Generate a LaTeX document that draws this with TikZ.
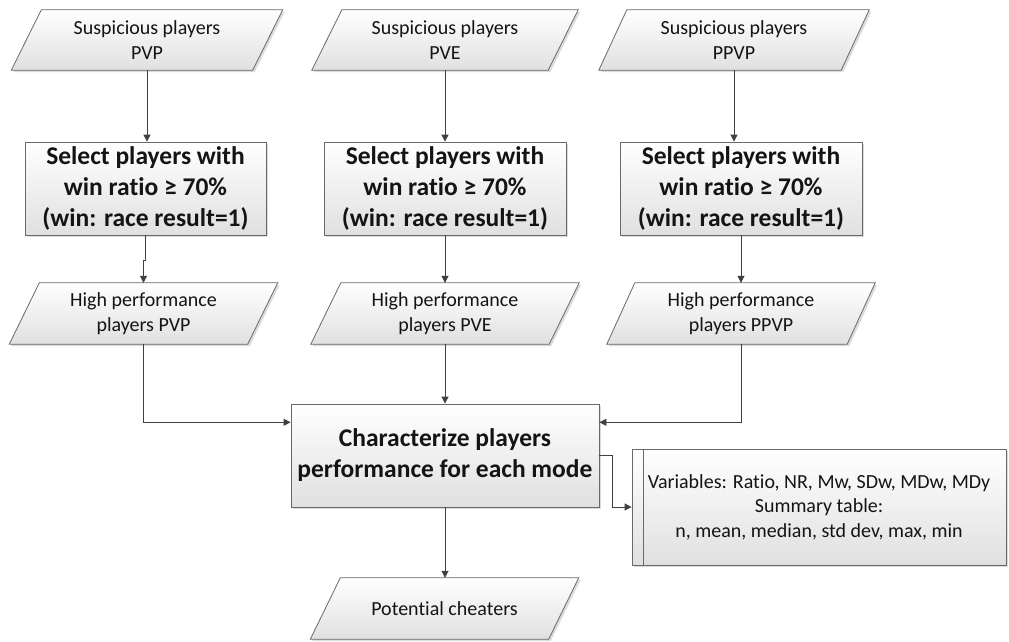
\documentclass[tikz,border=0pt]{standalone}
\usepackage{fontspec}
\setmainfont{Carlito}[Ligatures=NoCommon]
\usetikzlibrary{arrows.meta,calc,backgrounds,shadows}

\definecolor{linegray}{RGB}{105,105,105}
\definecolor{fillgray}{RGB}{224,224,224}
\definecolor{arrowgray}{RGB}{64,64,64}
\definecolor{inkcolor}{RGB}{20,20,20}

\tikzset{
  basefill/.style={top color=white, bottom color=fillgray, draw=linegray, line width=0.8pt,
    drop shadow={shadow xshift=2pt, shadow yshift=-2pt, fill=black!40, opacity=0.35}},
  slanttext/.style={inner sep=0pt, align=center, text=inkcolor,
    font=\fontsize{20}{24.5}\selectfont},
  procbox/.style={basefill, inner sep=0pt, align=center, text=inkcolor,
    font=\bfseries\fontsize{25.5}{31}\selectfont},
  notebox/.style={basefill, inner sep=0pt, align=center, text=inkcolor,
    font=\fontsize{20}{24.5}\selectfont},
  flow/.style={draw=arrowgray, line width=0.8pt, -{Triangle[length=7pt,width=7pt]}},
}

% data (input/output) shape: a parallelogram drawn behind a text node
\newcommand\slantshape[2]{%
  \path[basefill] ($(#1.south west)+(-#2,0)$) -- ($(#1.south east)+(-#2,0)$)
    -- ($(#1.north east)+(#2,0)$) -- ($(#1.north west)+(#2,0)$) -- cycle;}

\begin{document}
\begin{tikzpicture}[x=1pt,y=-1pt]
\useasboundingbox (0,0) rectangle (1009,641);

% input data
\node[slanttext, minimum width=241pt, minimum height=60pt] (s1) at (147,40) {Suspicious players\\PVP};
\node[slanttext, minimum width=236pt, minimum height=60pt] (s2) at (445,40) {Suspicious players\\PVE};
\node[slanttext, minimum width=242pt, minimum height=60pt] (s3) at (734,40) {Suspicious players\\PPVP};

% selection steps
\node[procbox, minimum width=241pt, minimum height=93pt] (sel1) at (145.5,188.5) {Select players with\\win ratio ≥ 70\%\\(win: race result=1)};
\node[procbox, minimum width=242pt, minimum height=93pt] (sel2) at (445,188.5) {Select players with\\win ratio ≥ 70\%\\(win: race result=1)};
\node[procbox, minimum width=242pt, minimum height=93pt] (sel3) at (741,188.5) {Select players with\\win ratio ≥ 70\%\\(win: race result=1)};

% selected players
\node[slanttext, minimum width=238pt, minimum height=61pt] (h1) at (143.5,313.5) {High performance\\players PVP};
\node[slanttext, minimum width=238pt, minimum height=61pt] (h2) at (445,313.5) {High performance\\players PVE};
\node[slanttext, minimum width=240pt, minimum height=61pt] (h3) at (741,313.5) {High performance\\players PPVP};

% characterization
\node[procbox, minimum width=308pt, minimum height=103pt] (c) at (445,455.5) {Characterize players\\performance for each mode};

% annotation (predefined process)
\node[notebox, minimum width=374pt, minimum height=116pt] (a) at (819,507) {Variables: Ratio, NR, Mw, SDw, MDw, MDy\\Summary table:\\n, mean, median, std dev, max, min};
\draw[linegray, line width=0.8pt] ($(a.north west)+(12,0)$) -- ($(a.south west)+(12,0)$);

% output
\node[slanttext, minimum width=238pt, minimum height=61pt] (p) at (444.5,608.5) {Potential cheaters};

\begin{scope}[on background layer]
  \fill[white] (0,0) rectangle (1009,641);
  \slantshape{s1}{15}
  \slantshape{s2}{15}
  \slantshape{s3}{14}
  \slantshape{h1}{15}
  \slantshape{h2}{15}
  \slantshape{h3}{14}
  \slantshape{p}{15}
\end{scope}

% connectors
\draw[flow] (s1.south) -- (s1.south |- sel1.north);
\draw[flow] (s2.south) -- (s2.south |- sel2.north);
\draw[flow] (s3.south) -- (s3.south |- sel3.north);

\draw[flow] (sel1.south) -- ++(0,25) -| (h1.north);
\draw[flow] (sel2.south) -- (sel2.south |- h2.north);
\draw[flow] (sel3.south) -- (sel3.south |- h3.north);

\draw[flow] (h1.south) |- ($(c.north west)!0.18!(c.south west)$);
\draw[flow] (h2.south) -- (h2.south |- c.north);
\draw[flow] (h3.south) |- ($(c.north east)!0.18!(c.south east)$);

\draw[flow] (c.east) -- ++(13,0) |- (a.west);
\draw[flow] (c.south) -- (c.south |- p.north);
\end{tikzpicture}
\end{document}
